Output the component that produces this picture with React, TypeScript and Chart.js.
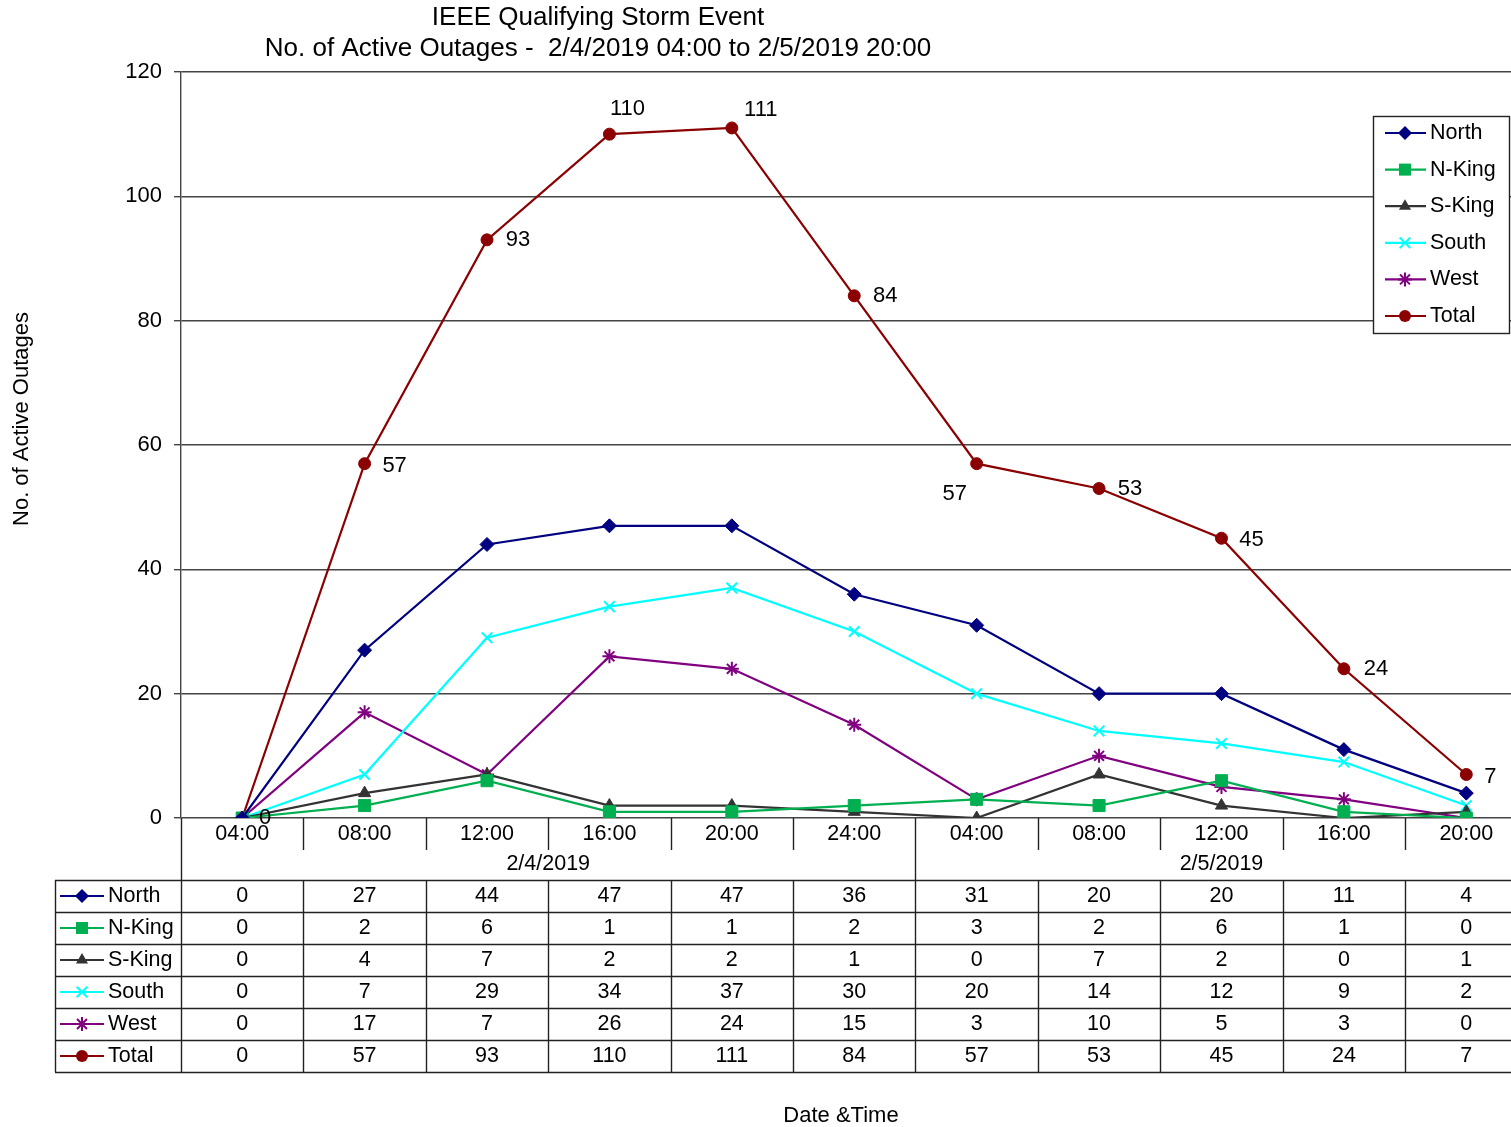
import React, { useEffect, useRef } from "react";
import { Chart, registerables } from "chart.js";

Chart.register(...registerables);

const timeLabels = ["04:00", "08:00", "12:00", "16:00", "20:00", "24:00", "04:00", "08:00", "12:00", "16:00", "20:00"];
const dateGroups = [
  { label: "2/4/2019", start: 0, end: 5 },
  { label: "2/5/2019", start: 6, end: 10 },
];
const north = [0, 27, 44, 47, 47, 36, 31, 20, 20, 11, 4];
const nKing = [0, 2, 6, 1, 1, 2, 3, 2, 6, 1, 0];
const sKing = [0, 4, 7, 2, 2, 1, 0, 7, 2, 0, 1];
const south = [0, 7, 29, 34, 37, 30, 20, 14, 12, 9, 2];
const west = [0, 17, 7, 26, 24, 15, 3, 10, 5, 3, 0];
const total = [0, 57, 93, 110, 111, 84, 57, 53, 45, 24, 7];
const yTicks = [0, 20, 40, 60, 80, 100, 120];

const titleLines = ["IEEE Qualifying Storm Event", "No. of Active Outages -  2/4/2019 04:00 to 2/5/2019 20:00"];
const yTitle = "No. of Active Outages";
const xTitle = "Date &Time";

// label offsets (style) for Total data labels
const totalLabelOffsets: [number, number][] = [
  [23, 0], [30, 2], [31, 0], [18, -25], [29, -18], [31, 0], [-22, 30], [31, 0], [30, 2], [32, 0], [24, 2],
];

const FONT = "'Liberation Sans', Arial, sans-serif";
const GRID = "#444";

const seriesStyle = [
  { name: "North", data: north, color: "#000080", point: "rectRot", radius: 7 },
  { name: "N-King", data: nKing, color: "#00B050", point: "rect", radius: 8.5 },
  { name: "S-King", data: sKing, color: "#333333", point: "triangle", radius: 7 },
  { name: "South", data: south, color: "#00FFFF", point: "crossRot", radius: 7.5 },
  { name: "West", data: west, color: "#800080", point: "star", radius: 7 },
  { name: "Total", data: total, color: "#8B0000", point: "circle", radius: 6 },
];

function drawMarker(ctx: CanvasRenderingContext2D, style: string, x: number, y: number, r: number, color: string) {
  ctx.save();
  ctx.fillStyle = color;
  ctx.strokeStyle = color;
  ctx.lineWidth = 2;
  ctx.beginPath();
  const s2 = Math.SQRT1_2 * r;
  if (style === "rectRot") {
    ctx.moveTo(x, y - r); ctx.lineTo(x + r, y); ctx.lineTo(x, y + r); ctx.lineTo(x - r, y); ctx.closePath(); ctx.fill();
  } else if (style === "rect") {
    ctx.rect(x - s2, y - s2, s2 * 2, s2 * 2); ctx.fill();
  } else if (style === "triangle") {
    const w = r * Math.sqrt(3) / 2;
    ctx.moveTo(x, y - r); ctx.lineTo(x + w, y + r / 2); ctx.lineTo(x - w, y + r / 2); ctx.closePath(); ctx.fill();
  } else if (style === "crossRot") {
    ctx.moveTo(x - s2, y - s2); ctx.lineTo(x + s2, y + s2); ctx.moveTo(x + s2, y - s2); ctx.lineTo(x - s2, y + s2); ctx.stroke();
  } else if (style === "star") {
    ctx.moveTo(x - s2, y - s2); ctx.lineTo(x + s2, y + s2); ctx.moveTo(x + s2, y - s2); ctx.lineTo(x - s2, y + s2);
    ctx.moveTo(x, y - r); ctx.lineTo(x, y + r); ctx.moveTo(x - r, y); ctx.lineTo(x + r, y); ctx.stroke();
  } else {
    ctx.arc(x, y, r, 0, Math.PI * 2); ctx.fill();
  }
  ctx.restore();
}

const decorPlugin = {
  id: "decor",
  afterDraw(chart: any) {
    const ctx: CanvasRenderingContext2D = chart.ctx;
    const xs = chart.scales.x;
    const ys = chart.scales.y;
    const area = chart.chartArea;
    const n = timeLabels.length;
    const cell = (area.right - area.left) / n;
    const left = area.left;
    const bottom = area.bottom;
    const tickRowBottom = bottom + 32;
    const tableTop = bottom + 62;
    const rowH = 32;
    const tableBottom = tableTop + rowH * seriesStyle.length;
    const keyLeft = 55;

    ctx.save();
    // Total data labels
    ctx.font = `22px ${FONT}`;
    ctx.fillStyle = "#000";
    ctx.textAlign = "center";
    ctx.textBaseline = "middle";
    total.forEach((v, i) => {
      const px = xs.getPixelForValue(i);
      const py = ys.getPixelForValue(v);
      const [dx, dy] = totalLabelOffsets[i];
      ctx.fillText(String(v), px + dx, py + dy);
    });

    // Titles
    ctx.font = `26px ${FONT}`;
    ctx.fillText(titleLines[0], 598, 18);
    ctx.fillText(titleLines[1], 598, 49);

    // Axis titles
    ctx.font = `22px ${FONT}`;
    ctx.fillText(xTitle, 841, 1116);
    ctx.save();
    ctx.translate(22, 419);
    ctx.rotate(-Math.PI / 2);
    ctx.fillText(yTitle, 0, 0);
    ctx.restore();

    // grid lines for x labels / table
    ctx.strokeStyle = "#222";
    ctx.lineWidth = 1.4;
    ctx.beginPath();
    for (let i = 1; i < n; i++) {
      const bx = Math.round(left + i * cell) + 0.5;
      const isGroupEdge = dateGroups.some((g) => g.start === i);
      ctx.moveTo(bx, bottom);
      ctx.lineTo(bx, isGroupEdge ? tableTop : tickRowBottom);
      ctx.moveTo(bx, tableTop);
      ctx.lineTo(bx, tableBottom);
    }
    const lx = Math.round(left) + 0.5;
    ctx.moveTo(lx, bottom);
    ctx.lineTo(lx, tableBottom);
    ctx.moveTo(keyLeft + 0.5, tableTop);
    ctx.lineTo(keyLeft + 0.5, tableBottom);
    for (let r = 0; r <= seriesStyle.length; r++) {
      const yy = tableTop + r * rowH + 0.5;
      ctx.moveTo(keyLeft, yy);
      ctx.lineTo(chart.width, yy);
    }
    ctx.stroke();

    // tick labels
    ctx.fillStyle = "#000";
    ctx.font = `21.5px ${FONT}`;
    ctx.textAlign = "center";
    timeLabels.forEach((t, i) => {
      ctx.fillText(t, xs.getPixelForValue(i), bottom + 16);
    });
    dateGroups.forEach((g) => {
      const cx = (left + g.start * cell + left + (g.end + 1) * cell) / 2;
      ctx.fillText(g.label, cx, bottom + 46);
    });

    // table rows
    seriesStyle.forEach((s, r) => {
      const cy = tableTop + r * rowH + rowH / 2;
      ctx.strokeStyle = s.color;
      ctx.lineWidth = 2.2;
      ctx.beginPath();
      ctx.moveTo(60, cy);
      ctx.lineTo(104, cy);
      ctx.stroke();
      drawMarker(ctx, s.point, 82, cy, s.radius, s.color);
      ctx.fillStyle = "#000";
      ctx.textAlign = "left";
      ctx.fillText(s.name, 108, cy);
      ctx.textAlign = "center";
      s.data.forEach((v, i) => {
        ctx.fillText(String(v), xs.getPixelForValue(i), cy);
      });
    });

    // legend box
    const lbx = 1373, lby = 116, lbw = 136, lbh = 217;
    ctx.fillStyle = "#fff";
    ctx.fillRect(lbx, lby, lbw, lbh);
    ctx.strokeStyle = "#222";
    ctx.lineWidth = 1.4;
    ctx.strokeRect(lbx + 0.5, lby + 0.5, lbw, lbh);
    seriesStyle.forEach((s, r) => {
      const cy = 133 + r * 36.6;
      ctx.strokeStyle = s.color;
      ctx.lineWidth = 2.2;
      ctx.beginPath();
      ctx.moveTo(1385, cy);
      ctx.lineTo(1426, cy);
      ctx.stroke();
      drawMarker(ctx, s.point, 1405, cy, s.radius, s.color);
      ctx.fillStyle = "#000";
      ctx.textAlign = "left";
      ctx.font = `21.5px ${FONT}`;
      ctx.fillText(s.name, 1430, cy);
    });
    ctx.restore();
  },
};

export default function App() {
  const ref = useRef<HTMLCanvasElement>(null);
  useEffect(() => {
    document.body.style.margin = "0";
    const canvas = ref.current!;
    const chart = new Chart(canvas, {
      type: "line",
      data: {
        labels: timeLabels,
        datasets: seriesStyle.map((s) => ({
          label: s.name,
          data: s.data,
          borderColor: s.color,
          backgroundColor: s.color,
          borderWidth: 2.2,
          pointStyle: s.point as any,
          pointRadius: s.radius,
          pointBorderWidth: s.point === "crossRot" || s.point === "star" ? 2 : 1,
          tension: 0,
          fill: false,
        })),
      },
      options: {
        responsive: false,
        animation: false,
        devicePixelRatio: 1,
        layout: { padding: { top: 72, left: 0, right: 0, bottom: 0 } },
        plugins: { legend: { display: false }, tooltip: { enabled: false }, title: { display: false } },
        scales: {
          x: {
            type: "category",
            offset: true,
            ticks: { display: false },
            grid: { display: false },
            border: { display: false },
            afterFit: (s: any) => { s.height = 1127 - 818; },
          },
          y: {
            min: 0,
            max: 120,
            afterBuildTicks: (s: any) => { s.ticks = yTicks.map((v) => ({ value: v })); },
            ticks: { color: "#000", font: { family: FONT, size: 22 }, padding: 12 },
            grid: { color: GRID, lineWidth: 1.4, tickLength: 7, drawTicks: true },
            border: { color: GRID, width: 1.4 },
            afterFit: (s: any) => { s.width = 181; },
          },
        },
      },
      plugins: [decorPlugin],
    });
    return () => chart.destroy();
  }, []);
  return (
    <div style={{ width: 1511, height: 1127, overflow: "hidden", position: "relative", background: "#fff" }}>
      <canvas ref={ref} width={1537} height={1127} style={{ width: 1537, height: 1127, display: "block" }} />
    </div>
  );
}
